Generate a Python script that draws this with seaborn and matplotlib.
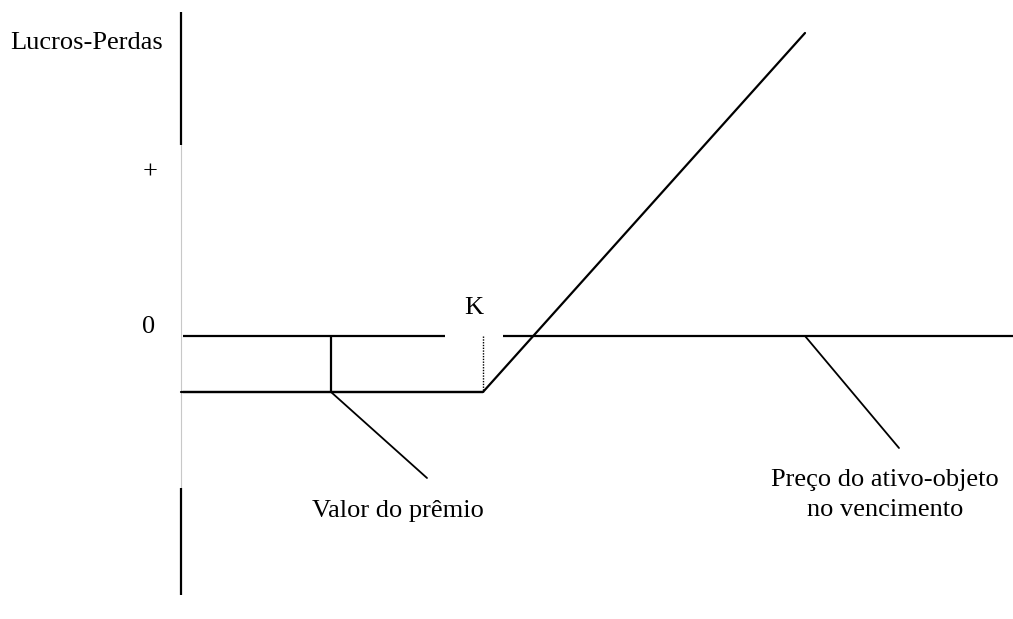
import matplotlib
matplotlib.use("Agg")
import matplotlib.pyplot as plt
import seaborn as sns
import pandas as pd

sns.set_theme(style="white")
plt.rcParams['font.family'] = ['Liberation Serif', 'DejaVu Serif']
plt.rcParams['text.color'] = 'black'

# payoff of a long call (origin at the vertical axis / zero line)
strike = 302
premium = 56
price = [0, strike, 624]
payoff = [-premium, -premium, 303]

# axis pieces along the vertical axis
axis_top = [324, 191]
axis_mid = [191, -152]
axis_bot = [-152, -259]
zero_left = [2, 264]
zero_right = [322, 832]

# leader lines for the annotations
prem_x = 150
prem_leader_x = [prem_x, 246]
prem_leader_y = [-premium, -142]
price_leader_x = [624, 718]
price_leader_y = [0, -112]

df = pd.DataFrame({'price': price, 'payoff': payoff})

fig = plt.figure(figsize=(10.13, 6.19), dpi=100)
ax = fig.add_axes([0, 0, 1, 1])

k = dict(color='black', lw=1.6, solid_capstyle='butt')
ax.plot([0, 0], axis_top, **k)
ax.plot([0, 0], axis_mid, color='#c8c8c8', lw=0.8)
ax.plot([0, 0], axis_bot, **k)
ax.plot(zero_left, [0, 0], **k)
ax.plot(zero_right, [0, 0], **k)
ax.plot([2, strike], [-premium, -premium], **k)
ax.plot([prem_x, prem_x], [0, -premium], **k)
ax.plot([strike, strike], [0, -premium], color='black', lw=1.0, ls=(0, (1, 1)))
ax.plot(prem_leader_x, prem_leader_y, color='black', lw=1.3)
ax.plot(price_leader_x, price_leader_y, color='black', lw=1.3)

sns.lineplot(data=df, x='price', y='payoff', sort=False, color='black', lw=1.6, ax=ax)

ax.set_xlim(-181, 832)
ax.set_ylim(-283, 336)
ax.axis('off')

fs = 19
ax.text(-94, 287, 'Lucros-Perdas', ha='center', va='baseline', fontsize=fs)
ax.text(-31, 163, '+', ha='center', va='center', fontsize=fs)
ax.text(-32, 3, '0', ha='center', va='baseline', fontsize=fs)
ax.text(293, 22, 'K', ha='center', va='baseline', fontsize=fs)
ax.text(217, -181, 'Valor do prêmio', ha='center', va='baseline', fontsize=fs)
ax.text(704, -150, 'Preço do ativo-objeto', ha='center', va='baseline', fontsize=fs)
ax.text(704, -180, 'no vencimento', ha='center', va='baseline', fontsize=fs)

fig.savefig('out.png', dpi=100)
